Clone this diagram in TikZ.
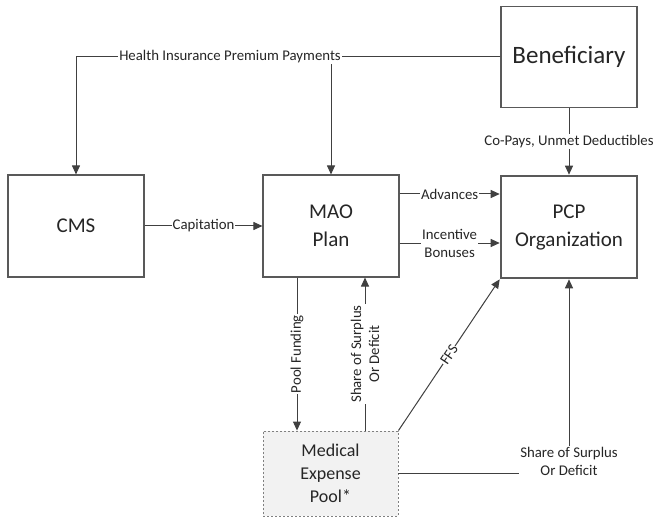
\documentclass[tikz,border=0pt]{standalone}
\usepackage{fontspec}
\setmainfont{Carlito}
\usetikzlibrary{arrows.meta}
\definecolor{linec}{RGB}{64,64,64}
\definecolor{boxc}{RGB}{89,89,89}
\definecolor{txtc}{RGB}{38,38,38}
\definecolor{poolfill}{RGB}{242,242,242}
\definecolor{pooledge}{RGB}{128,128,128}
\tikzset{
  box/.style={draw=boxc, line width=1.1bp, fill=white, text=txtc,
    minimum width=136bp, minimum height=102bp, inner sep=0pt, align=center,
    font=\fontsize{21bp}{28bp}\selectfont},
  thickbox/.style={box, line width=2.6bp},
  poolbox/.style={box, fill=poolfill, draw=pooledge, line width=0.9bp,
    dash pattern=on 2bp off 2bp, minimum width=135bp, minimum height=85bp,
    font=\fontsize{18bp}{23bp}\selectfont},
  flow/.style={draw=linec, line width=1bp, -{Triangle[length=9bp,width=8bp]}},
  plain/.style={draw=linec, line width=1bp},
  lbl/.style={fill=white, text=txtc, inner sep=1bp, align=center,
    font=\fontsize{14.8bp}{18bp}\selectfont},
}
\begin{document}
\begin{tikzpicture}[x=1bp, y=-1bp]
\useasboundingbox (0,0) rectangle (653,518);

% parties
\node[box, font=\fontsize{25bp}{30bp}\selectfont, minimum height=101bp] (ben) at (569,57) {Beneficiary};
\node[box] (cms) at (76,226) {CMS};
\node[box] (mao) at (331,226) {MAO\\Plan};
\node[thickbox] (pcp) at (569,227) {PCP\\Organization};
\node[poolbox] (pool) at (330.5,473.5) {Medical\\Expense\\Pool*};

% premiums from the beneficiary
\draw[flow] (ben.west) -| (cms.north);
\draw[flow] (ben.west) -| (mao.north);
\node[lbl] (prem) at (230,57) {Health Insurance Premium Payments};

\draw[flow] (ben.south) -- node[lbl] {Co-Pays, Unmet Deductibles} (pcp.north);
\draw[flow] (cms.east) -- node[lbl] {Capitation} (mao.west);

% payments from the plan to the PCP
\coordinate (adv) at ([yshift=32bp]mao.east);
\coordinate (inc) at ([yshift=-17bp]mao.east);
\draw[flow] (adv) -- node[lbl] {Advances} (pcp.west |- adv);
\draw[flow] (inc) -- node[lbl] {Incentive\\Bonuses} (pcp.west |- inc);

% pool flows
\coordinate (fund) at ([xshift=-34bp]mao.south);
\coordinate (shr) at ([xshift=34bp]mao.south);
\draw[flow] (fund) -- node[lbl, rotate=90] {Pool Funding} (pool.north -| fund);
\draw[flow] (pool.north -| shr) -- node[lbl, rotate=90] {Share of Surplus\\Or Deficit} (shr);
\draw[flow] (pool.north east) -- node[lbl, rotate=56, inner sep=0.5bp] {FFS} (pcp.south west);
\draw[flow] (pool.east) -| node[lbl, pos=0.5, yshift=12bp] {Share of Surplus\\Or Deficit} (pcp.south);
\end{tikzpicture}
\end{document}
